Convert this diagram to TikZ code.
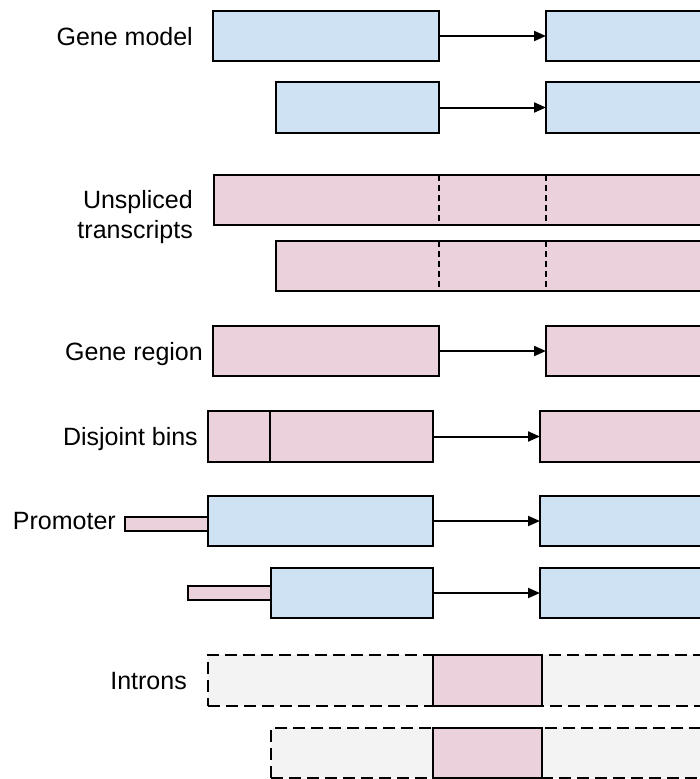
\documentclass[tikz,border=0pt]{standalone}
\usepackage{fontspec}
\setmainfont{Liberation Sans}
\usetikzlibrary{arrows.meta}
\definecolor{gblue}{HTML}{CFE2F3}
\definecolor{gpink}{HTML}{EAD1DC}
\definecolor{ggray}{HTML}{F3F3F3}
\begin{document}
\begin{tikzpicture}[x=1pt,y=-1pt,
  box/.style={draw=black,line width=2.2pt,inner sep=0pt,outer sep=0pt,anchor=north west},
  bbox/.style={box,fill=gblue},
  pbox/.style={box,fill=gpink},
  ibox/.style={box,fill=ggray,dash pattern=on 12pt off 6pt},
  lbl/.style={anchor=base east,inner sep=0pt,font=\fontsize{25}{30}\selectfont},
  arr/.style={line width=2pt,-{Triangle[length=12pt,width=10pt]}},
  binline/.style={line width=2pt,dash pattern=on 6pt off 4pt}]
\useasboundingbox (0,0) rectangle (700,779);
\clip (0,0) rectangle (700,779);
\fill[white] (0,0) rectangle (700,779);

% Gene model
\node[lbl] (lgm) at (193,45) {Gene model};
\node[bbox,minimum width=226pt,minimum height=50pt] (gm1a) at (213,11) {};
\node[bbox,minimum width=200pt,minimum height=50pt] (gm1b) at (546,11) {};
\draw[arr] (gm1a.east) -- (gm1b.west);
\node[bbox,minimum width=163pt,minimum height=51pt] (gm2a) at (276,82) {};
\node[bbox,minimum width=200pt,minimum height=51pt] (gm2b) at (546,82) {};
\draw[arr] (gm2a.east) -- (gm2b.west);

% Unspliced transcripts
\node[lbl] (lun1) at (193,208) {Unspliced};
\node[lbl] (lun2) at (193,238) {transcripts};
\node[pbox,minimum width=520pt,minimum height=50pt] (un1) at (214,175) {};
\draw[binline] (439,175) -- (439,225);
\draw[binline] (546,175) -- (546,225);
\node[pbox,minimum width=460pt,minimum height=50pt] (un2) at (276,241) {};
\draw[binline] (439,241) -- (439,291);
\draw[binline] (546,241) -- (546,291);

% Gene region
\node[lbl] (lgr) at (203,360) {Gene region};
\node[pbox,minimum width=226pt,minimum height=50pt] (gr1) at (213,326) {};
\node[pbox,minimum width=200pt,minimum height=50pt] (gr2) at (546,326) {};
\draw[arr] (gr1.east) -- (gr2.west);

% Disjoint bins
\node[lbl] (ldb) at (198,445) {Disjoint bins};
\node[pbox,minimum width=62pt,minimum height=51pt] (db1) at (208,411) {};
\node[pbox,minimum width=163pt,minimum height=51pt] (db2) at (270,411) {};
\node[pbox,minimum width=200pt,minimum height=51pt] (db3) at (540,411) {};
\draw[arr] (db2.east) -- (db3.west);

% Promoter
\node[lbl] (lpr) at (116,529) {Promoter};
\node[pbox,minimum width=83pt,minimum height=14pt] (pr1s) at (125,517) {};
\node[bbox,minimum width=225pt,minimum height=50pt] (pr1) at (208,496) {};
\node[bbox,minimum width=200pt,minimum height=50pt] (pr1b) at (540,496) {};
\draw[arr] (pr1.east) -- (pr1b.west);
\node[pbox,minimum width=83pt,minimum height=14pt] (pr2s) at (188,586) {};
\node[bbox,minimum width=162pt,minimum height=50pt] (pr2) at (271,568) {};
\node[bbox,minimum width=200pt,minimum height=50pt] (pr2b) at (540,568) {};
\draw[arr] (pr2.east) -- (pr2b.west);

% Introns
\node[lbl] (lin) at (187,689) {Introns};
\node[ibox,minimum width=520pt,minimum height=51pt] (in1) at (208,655) {};
\node[pbox,minimum width=109pt,minimum height=51pt] (in1p) at (433,655) {};
\node[ibox,minimum width=460pt,minimum height=50pt] (in2) at (271,728) {};
\node[pbox,minimum width=109pt,minimum height=50pt] (in2p) at (433,728) {};
\end{tikzpicture}
\end{document}
